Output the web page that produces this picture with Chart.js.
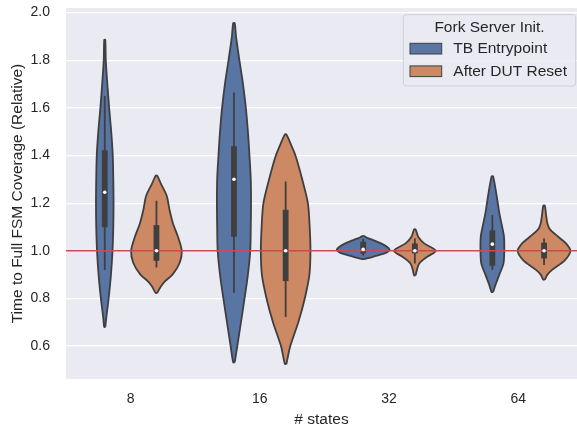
<!DOCTYPE html>
<html>
<head>
<meta charset="utf-8">
<script src="https://cdn.jsdelivr.net/npm/chart.js@4.4.1/dist/chart.umd.min.js"></script>
<style>
  html, body { margin: 0; padding: 0; background: #ffffff; overflow: hidden; }
  #wrap { width: 577px; height: 427px; }
</style>
</head>
<body>
<div id="wrap"><canvas id="violinChart" width="577" height="427"></canvas></div>
<script>
// categories on the x axis
var categories = ['8', '16', '32', '64']
var seriesNames = ['TB Entrypoint', 'After DUT Reset']
var legendTitle = 'Fork Server Init.'

// violin outlines: value levels and relative density (1 = widest violin)
var tbLevels = [
  [0.68, 0.72, 0.8, 0.9, 1.0, 1.1, 1.2, 1.3, 1.4, 1.5, 1.6, 1.7, 1.8, 1.885],
  [0.532, 0.6, 0.7, 0.8, 0.9, 1.0, 1.1, 1.2, 1.3, 1.4, 1.5, 1.6, 1.7, 1.8, 1.9, 1.955],
  [0.965, 0.975, 0.989, 1.0, 1.006, 1.017, 1.031, 1.045, 1.055, 1.062],
  [0.827, 0.86, 0.9, 0.947, 1.0, 1.059, 1.1, 1.158, 1.228, 1.312]
]
var tbDensity = [
  [0.02, 0.06, 0.15, 0.24, 0.30, 0.33, 0.34, 0.33, 0.31, 0.25, 0.17, 0.10, 0.04, 0.02],
  [0.03, 0.13, 0.27, 0.41, 0.54, 0.63, 0.65, 0.66, 0.65, 0.60, 0.54, 0.46, 0.35, 0.21, 0.08, 0.03],
  [0.03, 0.38, 0.83, 1.0, 1.02, 0.92, 0.69, 0.38, 0.15, 0.03],
  [0.03, 0.13, 0.27, 0.43, 0.46, 0.45, 0.38, 0.27, 0.17, 0.03]
]
var resetLevels = [
  [0.823, 0.85, 0.87, 0.9, 0.95, 1.0, 1.06, 1.115, 1.17, 1.23, 1.28, 1.315],
  [0.525, 0.6, 0.7, 0.8, 0.9, 1.0, 1.1, 1.2, 1.3, 1.4, 1.45, 1.488],
  [0.897, 0.92, 0.947, 0.975, 1.0, 1.031, 1.059, 1.09],
  [0.879, 0.9, 0.919, 0.961, 1.0, 1.031, 1.059, 1.09, 1.115, 1.15, 1.189]
]
var resetDensity = [
  [0.03, 0.17, 0.31, 0.62, 0.90, 0.98, 0.83, 0.64, 0.51, 0.40, 0.18, 0.03],
  [0.03, 0.18, 0.49, 0.74, 0.92, 0.96, 0.93, 0.86, 0.64, 0.38, 0.19, 0.03],
  [0.03, 0.08, 0.17, 0.48, 0.81, 0.36, 0.13, 0.03],
  [0.03, 0.13, 0.30, 0.81, 1.02, 0.85, 0.55, 0.23, 0.13, 0.08, 0.03]
]

// inner boxes: [whisker low, q1, median, q3, whisker high]
var tbBoxes = [
  [0.92, 1.099, 1.246, 1.422, 1.65],
  [0.824, 1.059, 1.30, 1.439, 1.664],
  [0.98, 0.989, 1.006, 1.038, 1.05],
  [0.92, 0.937, 1.028, 1.086, 1.15]
]
var resetBoxes = [
  [0.93, 0.958, 1.0, 1.108, 1.21],
  [0.722, 0.873, 1.0, 1.172, 1.291],
  [0.947, 0.989, 1.0, 1.031, 1.052],
  [0.94, 0.968, 1.0, 1.034, 1.052]
]

var yTicks = [0.6, 0.8, 1.0, 1.2, 1.4, 1.6, 1.8, 2.0]
var referenceValue = 1.0

var seriesColors = ['#5875a4', '#cc8963']
var edgeColor = '#3f3f3f'
var textColor = '#262626'
var dodge = 0.2
var violinHalfWidth = 0.2
var fontFamily = '"Liberation Sans", Arial, sans-serif'

function violinPoints(center, levels, dens) {
  var right = levels.map(function (v, i) { return { x: center + dens[i] * violinHalfWidth, y: v } })
  var left = levels.map(function (v, i) { return { x: center - dens[i] * violinHalfWidth, y: v } }).reverse()
  var pts = right.concat(left)
  pts.push(right[0])
  return pts
}

var datasets = []
var groups = [
  { levels: tbLevels, density: tbDensity, boxes: tbBoxes, shift: -dodge },
  { levels: resetLevels, density: resetDensity, boxes: resetBoxes, shift: dodge }
]

groups.forEach(function (g, s) {
  categories.forEach(function (cat, i) {
    var c = i + g.shift
    var b = g.boxes[i]
    datasets.push({
      label: seriesNames[s],
      data: violinPoints(c, g.levels[i], g.density[i]),
      backgroundColor: seriesColors[s],
      borderColor: edgeColor,
      borderWidth: 1.8,
      fill: 'shape',
      tension: 0.3,
      pointRadius: 0,
      order: 5
    })
    datasets.push({
      label: 'whisker',
      data: [{ x: c, y: b[0] }, { x: c, y: b[4] }],
      borderColor: edgeColor,
      borderWidth: 1.8,
      pointRadius: 0,
      fill: false,
      order: 4
    })
    datasets.push({
      label: 'box',
      data: [{ x: c, y: b[1] }, { x: c, y: b[3] }],
      borderColor: edgeColor,
      borderWidth: 5.8,
      borderCapStyle: 'butt',
      pointRadius: 0,
      fill: false,
      order: 3
    })
    datasets.push({
      label: 'median',
      data: [{ x: c, y: b[2] }],
      showLine: false,
      pointRadius: 1.8,
      pointBackgroundColor: '#ffffff',
      pointBorderWidth: 0,
      order: 1
    })
  })
})

datasets.push({
  label: 'reference',
  data: [{ x: -1, y: referenceValue }, { x: categories.length, y: referenceValue }],
  borderColor: '#c44e52',
  borderWidth: 1.5,
  pointRadius: 0,
  fill: false,
  order: 2
})

var plotBackground = {
  id: 'plotBackground',
  beforeDraw: function (chart) {
    var a = chart.chartArea
    chart.ctx.save()
    chart.ctx.fillStyle = '#eaeaf2'
    chart.ctx.fillRect(a.left, a.top, a.right - a.left, a.bottom - a.top)
    chart.ctx.restore()
  }
}

var boxLegend = {
  id: 'boxLegend',
  afterDraw: function (chart) {
    var ctx = chart.ctx
    var a = chart.chartArea
    var w = 172.4, h = 71.3
    var x = a.right - w - 1.3, y = a.top + 6.7
    ctx.save()
    ctx.beginPath()
    ctx.roundRect(x, y, w, h, 3)
    ctx.fillStyle = 'rgba(234,234,242,0.8)'
    ctx.fill()
    ctx.strokeStyle = '#cfcfd6'
    ctx.lineWidth = 1
    ctx.stroke()
    ctx.font = '15.5px ' + fontFamily
    ctx.fillStyle = textColor
    ctx.textAlign = 'center'
    ctx.textBaseline = 'middle'
    ctx.fillText(legendTitle, x + w / 2, y + 12.8)
    seriesNames.forEach(function (name, i) {
      var py = y + 28.6 + i * 22.6
      ctx.fillStyle = seriesColors[i]
      ctx.fillRect(x + 6.7, py, 31.7, 10.7)
      ctx.strokeStyle = edgeColor
      ctx.lineWidth = 1
      ctx.strokeRect(x + 6.7, py, 31.7, 10.7)
      ctx.fillStyle = textColor
      ctx.textAlign = 'left'
      ctx.fillText(name, x + 50, py + 5.6)
    })
    ctx.restore()
  }
}

var violinChart = new Chart(document.getElementById('violinChart').getContext('2d'), {
  type: 'line',
  data: { datasets: datasets },
  options: {
    responsive: false,
    animation: false,
    devicePixelRatio: 1,
    layout: { autoPadding: false, padding: { top: 8, left: 0, right: 0, bottom: 0 } },
    plugins: {
      legend: { display: false },
      tooltip: { enabled: false }
    },
    scales: {
      x: {
        type: 'linear',
        min: -0.5,
        max: 3.455,
        grid: { display: false, drawTicks: false },
        border: { display: false },
        afterBuildTicks: function (s) {
          s.ticks = categories.map(function (c, i) { return { value: i } })
        },
        afterFit: function (s) {
          s.height = 48
          s.paddingLeft = 0
          s.paddingRight = 0
        },
        ticks: {
          padding: 12,
          color: textColor,
          font: { family: fontFamily, size: 14 },
          callback: function (v) { return categories[v] }
        },
        title: {
          display: true,
          text: '# states',
          color: textColor,
          font: { family: fontFamily, size: 15.5 },
          padding: { top: 0, bottom: -2 }
        }
      },
      y: {
        type: 'linear',
        min: 0.462,
        max: 2.019,
        grid: { color: '#ffffff', lineWidth: 1.3, drawTicks: false },
        border: { display: false },
        afterBuildTicks: function (s) {
          s.ticks = yTicks.map(function (v) { return { value: v } })
        },
        afterFit: function (s) {
          s.width = 66
          s.paddingTop = 0
          s.paddingBottom = 0
        },
        ticks: {
          padding: 16,
          color: textColor,
          font: { family: fontFamily, size: 14 },
          callback: function (v) { return v.toFixed(1) }
        },
        title: {
          display: true,
          text: 'Time to Full FSM Coverage (Relative)',
          color: textColor,
          font: { family: fontFamily, size: 15.5 },
          padding: { top: 8, bottom: 0 }
        }
      }
    }
  },
  plugins: [plotBackground, boxLegend]
})
</script>
</body>
</html>
